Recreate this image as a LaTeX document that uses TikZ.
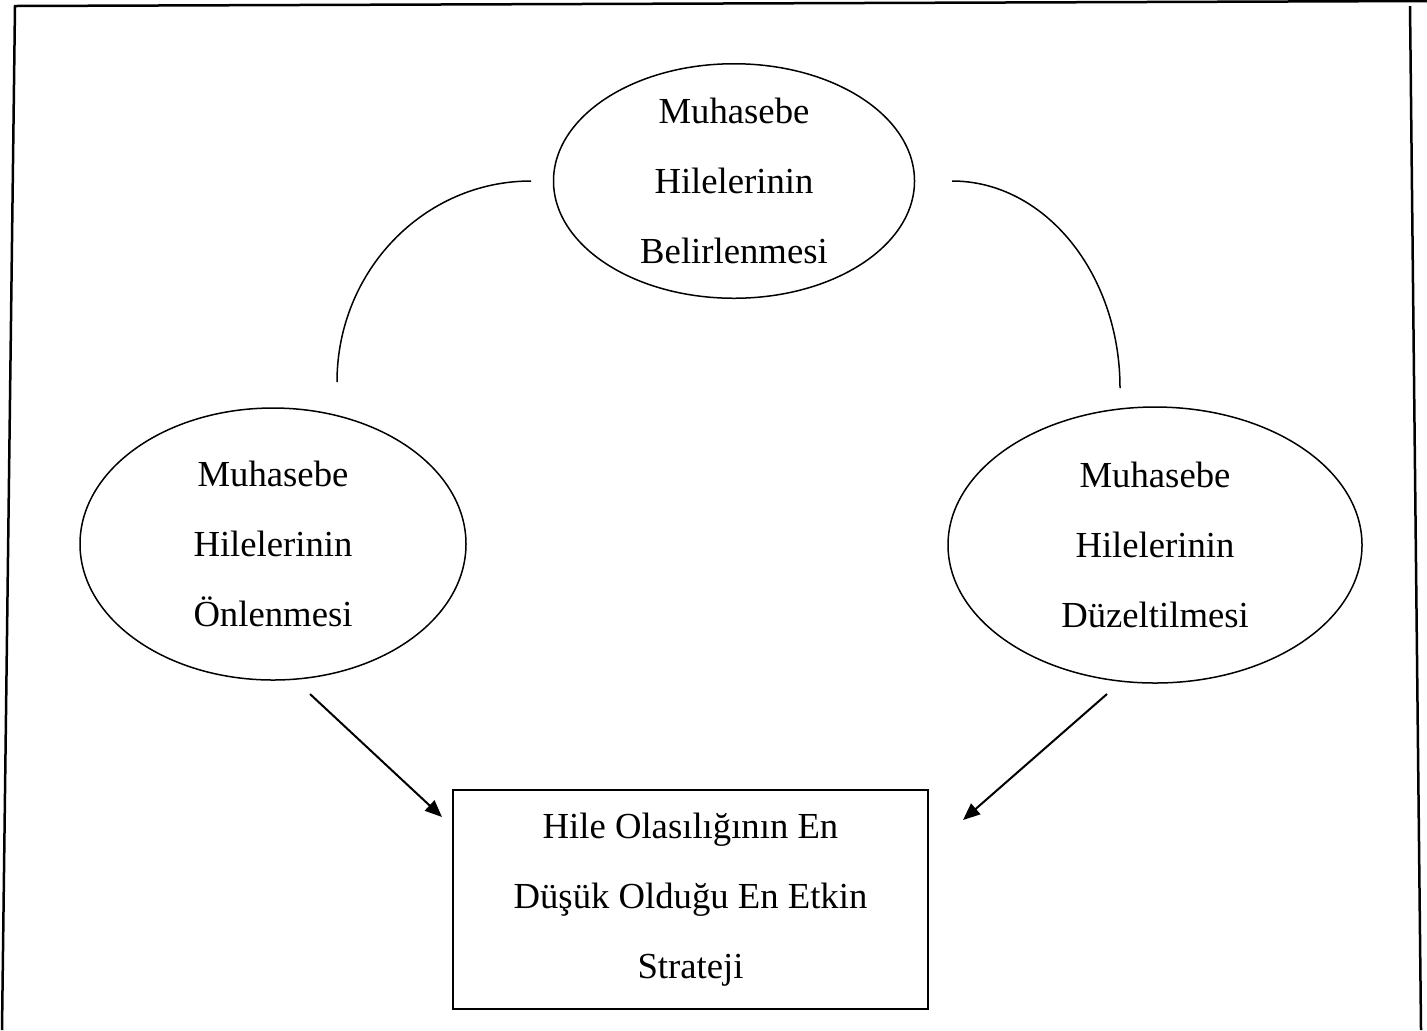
\documentclass[tikz,border=0pt]{standalone}
\usepackage{fontspec}
\setmainfont{Liberation Serif}
\usetikzlibrary{shapes.geometric,arrows.meta}
\begin{document}
\begin{tikzpicture}[x=0.5pt, y=-0.5pt,
  every node/.style = {align=center, inner sep=0pt,
    font=\fontsize{18.35}{35}\selectfont},
  stage/.style = {ellipse, draw, line width=0.75pt},
  goal/.style = {rectangle, draw, line width=1pt,
    minimum width=237.5pt, minimum height=109.5pt},
  loopline/.style = {line width=0.75pt},
  flow/.style = {-{Triangle[length=8.5pt,width=7pt]}, line width=1pt},
  frame/.style = {line width=1.25pt}
  ]
  \useasboundingbox (0,0) rectangle (1427,1030);
  \draw[frame] (2,1030) -- (15,6) -- (1427,1);
  \draw[frame] (1410,6) -- (1421,1030);

  \node [stage, minimum width=180.5pt, minimum height=105pt] (belirleme) at (734,181)
    {Muhasebe\\Hilelerinin\\Belirlenmesi};
  \node [stage, minimum width=193pt, minimum height=136pt] (onleme) at (273,544)
    {Muhasebe\\Hilelerinin\\Önlenmesi};
  \node [stage, minimum width=207pt, minimum height=138pt] (duzeltme) at (1155,545)
    {Muhasebe\\Hilelerinin\\Düzeltilmesi};
  \node [goal] (strateji) at (690.5,899.5)
    {Hile Olasılığının En\\Düşük Olduğu En Etkin\\Strateji};

  \coordinate (solUst) at (531,181);
  \coordinate (sagUst) at (952,181);
  \draw[loopline] (solUst) arc[start angle=270, end angle=180, x radius=194, y radius=201];
  \draw[loopline] (sagUst) arc[start angle=270, end angle=360, x radius=168, y radius=207];

  \coordinate (solOk) at (310,694);
  \coordinate (sagOk) at (1107,694);
  \coordinate (solUc) at (442,817);
  \coordinate (sagUc) at (963,820);
  \draw[flow] (solOk) -- (solUc);
  \draw[flow] (sagOk) -- (sagUc);
\end{tikzpicture}
\end{document}
